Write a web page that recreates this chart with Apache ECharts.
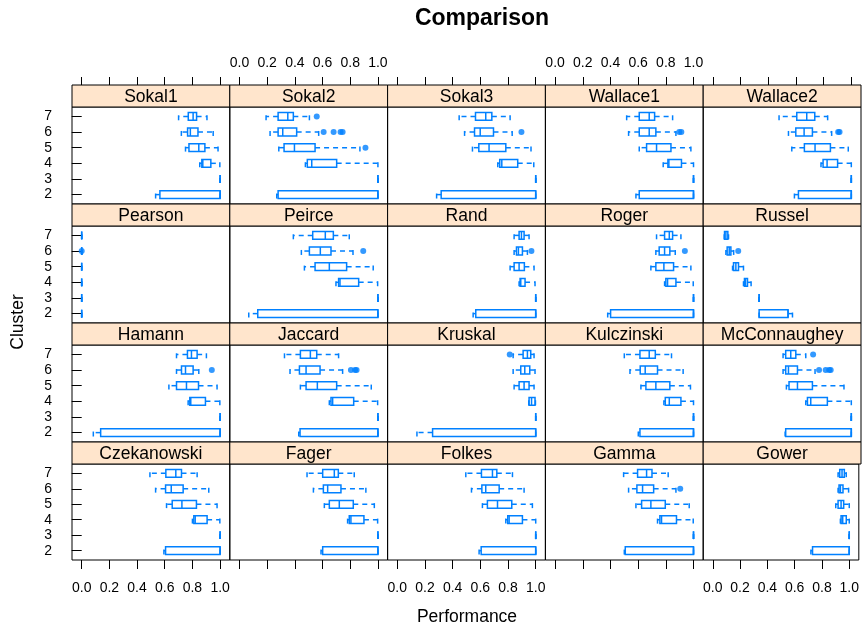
<!DOCTYPE html>
<html><head><meta charset="utf-8">
<script src="https://cdn.jsdelivr.net/npm/echarts@6/dist/echarts.min.js"></script>
<style>html,body{margin:0;padding:0;background:#fff}#c{width:862px;height:627px}</style>
</head><body><div id="c"></div>
<script>
// ---------- DATA ----------
const clusterLabels = [2, 3, 4, 5, 6, 7];
const xTickValues = [0, 0.2, 0.4, 0.6, 0.8, 1.0];
const chartTitle = 'Comparison';
const xTitle = 'Performance';
const yTitle = 'Cluster';
// rows: [cluster, lowWhisker, q1, median, q3, highWhisker]
const sokal1 = [[2,0.534,0.565,1,1,1],[3,1,1,1,1,1],[4,0.853,0.868,0.875,0.933,0.998],[5,0.75,0.775,0.846,0.89,0.985],[6,0.72,0.765,0.785,0.84,0.95],[7,0.70,0.77,0.805,0.83,0.905]];
const sokal1Out = [];
const sokal2 = [[2,0.269,0.279,1,1,1],[3,1,1,1,1,1],[4,0.476,0.49,0.522,0.702,1.0],[5,0.284,0.322,0.397,0.546,0.87],[6,0.221,0.279,0.3125,0.413,0.572],[7,0.192,0.279,0.349,0.389,0.505]];
const sokal2Out = [[0.558,7],[0.608,6],[0.68,6],[0.73,6],[0.745,6],[0.91,5]];
const sokal3 = [[2,0.284,0.317,1,1,1],[3,1,1,1,1,1],[4,0.726,0.74,0.755,0.87,0.986],[5,0.543,0.589,0.663,0.784,0.966],[6,0.486,0.558,0.599,0.695,0.83],[7,0.447,0.565,0.639,0.683,0.815]];
const sokal3Out = [[0.897,6]];
const wallace1 = [[2,0.584,0.608,1,1,1],[3,1,1,1,1,1],[4,0.781,0.815,0.822,0.913,1.0],[5,0.608,0.661,0.733,0.837,0.981],[6,0.531,0.608,0.68,0.728,0.873],[7,0.517,0.608,0.68,0.719,0.849]];
const wallace1Out = [[0.897,6],[0.912,6]];
const wallace2 = [[2,0.589,0.618,1,1,1],[3,1,1,1,1,1],[4,0.781,0.796,0.825,0.901,1.0],[5,0.57,0.661,0.738,0.849,0.978],[6,0.546,0.599,0.659,0.719,0.858],[7,0.478,0.606,0.678,0.736,0.829]];
const wallace2Out = [[0.905,6],[0.915,6]];
const pearson = [[2,0,0,0,0,0],[3,0,0,0,0,0],[4,0,0,0,0,0],[5,0,0,0,0,0],[6,0,0,0,0,0],[7,0,0,0,0,0]];
const pearsonOut = [[0,6]];
const peirce = [[2,0.067,0.132,1,1,1],[3,1,1,1,1,1],[4,0.697,0.716,0.726,0.861,0.998],[5,0.469,0.546,0.649,0.774,0.966],[6,0.447,0.505,0.584,0.661,0.82],[7,0.389,0.529,0.62,0.678,0.793]];
const peirceOut = [[0.894,6]];
const rand = [[2,0.548,0.567,1,1,1],[3,1,1,1,1,1],[4,0.88,0.887,0.892,0.923,0.995],[5,0.815,0.844,0.88,0.918,0.988],[6,0.844,0.861,0.875,0.904,0.94],[7,0.844,0.88,0.897,0.916,0.952]];
const randOut = [[0.969,6]];
const roger = [[2,0.38,0.401,1,1,1],[3,1,1,1,1,1],[4,0.791,0.80,0.8125,0.873,0.998],[5,0.692,0.728,0.786,0.856,0.981],[6,0.728,0.752,0.791,0.829,0.868],[7,0.733,0.791,0.825,0.849,0.909]];
const rogerOut = [[0.9375,6]];
const russel = [[2,0.334,0.334,0.543,0.543,0.575],[3,0.334,0.334,0.334,0.334,0.334],[4,0.221,0.228,0.236,0.25,0.276],[5,0.142,0.149,0.166,0.185,0.221],[6,0.094,0.103,0.118,0.13,0.15],[7,0.082,0.084,0.094,0.108,0.113]];
const russelOut = [[0.183,6]];
const hamann = [[2,0.084,0.137,1,1,1],[3,1,1,1,1,1],[4,0.769,0.781,0.788,0.894,0.998],[5,0.63,0.685,0.757,0.844,0.978],[6,0.685,0.721,0.75,0.805,0.846],[7,0.685,0.764,0.793,0.834,0.901]];
const hamannOut = [[0.94,6]];
const jaccard = [[2,0.428,0.4375,1,1,1],[3,1,1,1,1,1],[4,0.649,0.661,0.673,0.825,0.998],[5,0.44,0.481,0.5625,0.702,0.952],[6,0.365,0.433,0.481,0.582,0.745],[7,0.325,0.44,0.512,0.558,0.716]];
const jaccardOut = [[0.805,6],[0.835,6],[0.846,6]];
const kruskal = [[2,0.142,0.255,1,1,1],[3,1,1,1,1,1],[4,0.95,0.952,0.97,0.995,0.998],[5,0.844,0.88,0.916,0.952,0.988],[6,0.837,0.892,0.921,0.957,0.995],[7,0.837,0.909,0.94,0.964,0.988]];
const kruskalOut = [[0.8125,7]];
const kulczinski = [[2,0.601,0.613,1,1,1],[3,1,1,1,1,1],[4,0.786,0.796,0.825,0.909,1.0],[5,0.62,0.656,0.728,0.829,0.978],[6,0.541,0.615,0.651,0.74,0.925],[7,0.5,0.613,0.68,0.724,0.841]];
const kulczinskiOut = [];
const mcconnaughey = [[2,0.522,0.526,1,1,1],[3,1,1,1,1,1],[4,0.671,0.683,0.707,0.827,1.0],[5,0.531,0.55,0.611,0.719,0.947],[6,0.507,0.526,0.546,0.611,0.738],[7,0.507,0.526,0.5625,0.599,0.671]];
const mcconnaugheyOut = [[0.724,7],[0.767,6],[0.815,6],[0.84,6],[0.851,6]];
const czekanowski = [[2,0.594,0.606,1,1,1],[3,1,1,1,1,1],[4,0.80,0.81,0.82,0.906,0.998],[5,0.613,0.654,0.724,0.829,0.978],[6,0.534,0.606,0.647,0.733,0.918],[7,0.493,0.608,0.68,0.721,0.834]];
const czekanowskiOut = [];
const fager = [[2,0.589,0.601,1,1,1],[3,1,1,1,1,1],[4,0.781,0.793,0.805,0.899,0.998],[5,0.613,0.649,0.721,0.822,0.974],[6,0.534,0.606,0.637,0.733,0.913],[7,0.488,0.601,0.685,0.714,0.829]];
const fagerOut = [];
const folkes = [[2,0.591,0.606,1,1,1],[3,1,1,1,1,1],[4,0.784,0.798,0.808,0.904,1.0],[5,0.615,0.651,0.724,0.827,0.976],[6,0.536,0.611,0.639,0.736,0.916],[7,0.495,0.608,0.6875,0.719,0.832]];
const folkesOut = [];
const gamma = [[2,0.5,0.507,1,1,1],[3,1,1,1,1,1],[4,0.74,0.757,0.769,0.877,0.998],[5,0.584,0.625,0.692,0.796,0.969],[6,0.531,0.591,0.632,0.712,0.873],[7,0.495,0.596,0.661,0.70,0.817]];
const gammaOut = [[0.904,6]];
const gower = [[2,0.719,0.731,1,1,1],[3,1,1,1,1,1],[4,0.935,0.94,0.952,0.978,1.0],[5,0.901,0.918,0.94,0.959,1.0],[6,0.918,0.925,0.935,0.954,0.995],[7,0.918,0.93,0.947,0.964,0.978]];
const gowerOut = [];

const panelNames = ['Sokal1','Sokal2','Sokal3','Wallace1','Wallace2','Pearson','Peirce','Rand','Roger','Russel','Hamann','Jaccard','Kruskal','Kulczinski','McConnaughey','Czekanowski','Fager','Folkes','Gamma','Gower'];
const panelStats = [sokal1,sokal2,sokal3,wallace1,wallace2,pearson,peirce,rand,roger,russel,hamann,jaccard,kruskal,kulczinski,mcconnaughey,czekanowski,fager,folkes,gamma,gower];
const panelOut = [sokal1Out,sokal2Out,sokal3Out,wallace1Out,wallace2Out,pearsonOut,peirceOut,randOut,rogerOut,russelOut,hamannOut,jaccardOut,kruskalOut,kulczinskiOut,mcconnaugheyOut,czekanowskiOut,fagerOut,folkesOut,gammaOut,gowerOut];

// ---------- LAYOUT / STYLE ----------
const FONT = '"Liberation Sans", Arial, Helvetica, sans-serif';
const BLUE = '#0080ff';
const LW = 1.5;
const DASH = [5, 4];
const NCOL = 5, NROW = 4;
const PANEL_LEFT = 72, PANEL_W = 157.8;
const STRIP_TOPS = [85, 204, 323, 442];
const PLOT_BOTTOM = 560;
const STRIP_H = 22;

const chart = echarts.init(document.getElementById('c'), null, {renderer: 'canvas'});

function renderBox(params, api) {
  const c = api.value(0);
  const lo = api.value(1), q1 = api.value(2), md = api.value(3), q3 = api.value(4), hi = api.value(5);
  const pLo = api.coord([lo, c]), pQ1 = api.coord([q1, c]), pMd = api.coord([md, c]), pQ3 = api.coord([q3, c]), pHi = api.coord([hi, c]);
  const h = Math.abs(api.size([0, 0.5])[1]);
  const y = pMd[1];
  const solid = {stroke: BLUE, lineWidth: LW, fill: null};
  const dashed = {stroke: BLUE, lineWidth: LW, fill: null, lineDash: DASH};
  return {
    type: 'group',
    children: [
      {type: 'line', shape: {x1: pQ1[0], y1: y, x2: pLo[0], y2: y}, style: dashed},
      {type: 'line', shape: {x1: pQ3[0], y1: y, x2: pHi[0], y2: y}, style: dashed},
      {type: 'line', shape: {x1: pLo[0], y1: y + h / 2, x2: pLo[0], y2: y - h / 2}, style: dashed},
      {type: 'line', shape: {x1: pHi[0], y1: y + h / 2, x2: pHi[0], y2: y - h / 2}, style: dashed},
      {type: 'rect', shape: {x: pQ1[0], y: y - h / 2, width: pQ3[0] - pQ1[0], height: h}, style: solid},
      {type: 'line', shape: {x1: pMd[0], y1: y - h / 2, x2: pMd[0], y2: y + h / 2}, style: solid}
    ]
  };
}

const grids = [], xAxes = [], yAxes = [], series = [], graphics = [];
for (let i = 0; i < panelNames.length; i++) {
  const r = Math.floor(i / NCOL), c = i % NCOL;
  const stripTop = STRIP_TOPS[r];
  const plotTop = stripTop + STRIP_H;
  const plotBottom = r < NROW - 1 ? STRIP_TOPS[r + 1] : PLOT_BOTTOM;
  const left = PANEL_LEFT + c * PANEL_W;
  grids.push({left: left, top: plotTop, width: PANEL_W, height: plotBottom - plotTop,
    show: true, borderColor: '#000', borderWidth: 1, backgroundColor: 'transparent'});
  const isTop = r === 0, isBottom = r === NROW - 1;
  const showTicks = isTop || isBottom;
  const showLabels = (isTop && c % 2 === 1) || (isBottom && c % 2 === 0);
  xAxes.push({
    type: 'value', gridIndex: i, min: -0.07, max: 1.07,
    position: isTop ? 'top' : 'bottom',
    offset: isTop ? STRIP_H : 0,
    show: showTicks,
    axisLine: {show: false},
    splitLine: {show: false},
    axisTick: {show: showTicks, length: isTop ? 8 : 9, inside: false, customValues: xTickValues,
      lineStyle: {color: '#000', width: 1}},
    axisLabel: {show: showLabels, customValues: xTickValues, margin: isTop ? 15 : 21,
      fontSize: 14, fontFamily: FONT, color: '#000',
      formatter: v => Number(v).toFixed(1)}
  });
  yAxes.push({
    type: 'value', gridIndex: i, min: 1.4, max: 7.6,
    show: c === 0,
    axisLine: {show: false},
    splitLine: {show: false},
    axisTick: {show: c === 0, length: 10, customValues: clusterLabels, lineStyle: {color: '#000', width: 1}},
    axisLabel: {show: c === 0, customValues: clusterLabels, margin: 20, fontSize: 14, fontFamily: FONT, color: '#000',
      formatter: v => String(Math.round(v))}
  });
  series.push({
    type: 'custom', xAxisIndex: i, yAxisIndex: i,
    renderItem: renderBox,
    encode: {x: [1, 2, 3, 4, 5], y: 0},
    data: panelStats[i],
    silent: true, animation: false
  });
  series.push({
    type: 'scatter', xAxisIndex: i, yAxisIndex: i,
    data: panelOut[i], symbol: 'circle', symbolSize: 6,
    itemStyle: {color: BLUE}, silent: true, animation: false
  });
  graphics.push({
    type: 'rect', shape: {x: left, y: stripTop, width: PANEL_W, height: STRIP_H},
    style: {fill: '#ffe5cc', stroke: '#000', lineWidth: 1}, silent: true
  });
  graphics.push({
    type: 'text', x: left + PANEL_W / 2, y: stripTop + STRIP_H / 2 + 1,
    style: {text: panelNames[i], fill: '#000', font: '17.5px ' + FONT, textAlign: 'center', textVerticalAlign: 'middle'},
    silent: true
  });
}
graphics.push({type: 'text', x: 482, y: 19,
  style: {text: chartTitle, fill: '#000', font: 'bold 23px ' + FONT, textAlign: 'center', textVerticalAlign: 'middle'}});
graphics.push({type: 'text', x: 467, y: 617,
  style: {text: xTitle, fill: '#000', font: '17.5px ' + FONT, textAlign: 'center', textVerticalAlign: 'middle'}});
graphics.push({type: 'text', x: 18, y: 322, rotation: Math.PI / 2,
  style: {text: yTitle, fill: '#000', font: '17.5px ' + FONT, textAlign: 'center', textVerticalAlign: 'middle'}});

chart.setOption({
  animation: false,
  backgroundColor: '#fff',
  grid: grids,
  xAxis: xAxes,
  yAxis: yAxes,
  series: series,
  graphic: graphics
});
</script>
</body></html>
